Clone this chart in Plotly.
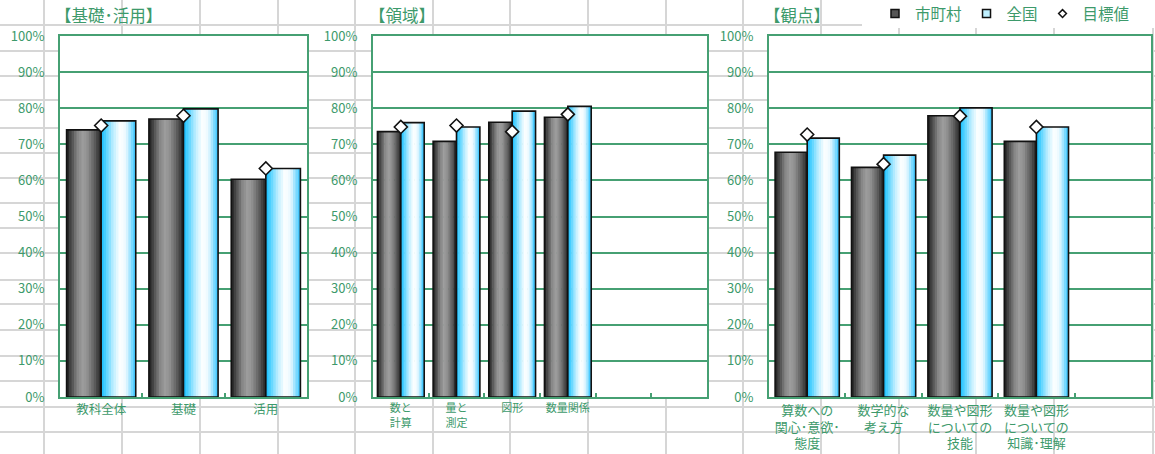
import plotly.graph_objects as go

# ---------------- data ----------------
cat1 = ["教科全体", "基礎", "活用"]
city1 = [0.740, 0.770, 0.603]
nation1 = [0.765, 0.798, 0.633]
target1 = [0.752, 0.779, 0.633]

cat2 = ["数と<br>計算", "量と<br>測定", "図形", "数量関係"]
city2 = [0.735, 0.708, 0.761, 0.775]
nation2 = [0.760, 0.748, 0.792, 0.805]
target2 = [0.748, 0.752, 0.735, 0.783]

cat3 = ["算数への<br>関心･意欲･<br>態度", "数学的な<br>考え方",
        "数量や図形<br>についての<br>技能", "数量や図形<br>についての<br>知識･理解"]
city3 = [0.678, 0.636, 0.779, 0.708]
nation3 = [0.717, 0.670, 0.801, 0.748]
target3 = [0.727, 0.645, 0.778, 0.748]

series_names = ["市町村", "全国", "目標値"]
titles = ["【基礎･活用】", "【領域】", "【観点】"]

# ---------------- style ----------------
W, H = 1155, 454
GREEN = "#46a073"
TEXT = "#3d9a6b"
FONT = "Noto Sans CJK JP"
BW = 0.42
NSTRIP = 14

gray_stops = [(0, (28, 28, 28)), (0.12, (70, 70, 70)), (0.32, (135, 135, 135)),
              (0.48, (158, 158, 158)), (0.62, (140, 140, 140)), (0.82, (90, 90, 90)),
              (1, (35, 35, 35))]
blue_stops = [(0, (20, 190, 255)), (0.15, (90, 212, 255)), (0.35, (190, 238, 255)),
              (0.55, (255, 255, 255)), (0.72, (232, 248, 255)), (0.88, (130, 220, 255)),
              (1, (50, 195, 255))]


def interp(stops, t):
    for (p0, c0), (p1, c1) in zip(stops[:-1], stops[1:]):
        if p0 <= t <= p1:
            f = (t - p0) / (p1 - p0) if p1 > p0 else 0
            c = [round(a + (b - a) * f) for a, b in zip(c0, c1)]
            return "rgb(%d,%d,%d)" % tuple(c)
    return "rgb(%d,%d,%d)" % stops[-1][1]


def px2x(p):
    return p / W


def px2y(p):
    return 1 - p / H


fig = go.Figure()

panels = [
    (cat1, city1, nation1, target1, 3, (60, 307)),
    (cat2, city2, nation2, target2, 6, (373, 707)),
    (cat3, city3, nation3, target3, 5, (769, 1151)),
]
label_sizes = [12.5, 11, 13]

step = BW / NSTRIP
for k, (cats, city, nation, target, nslots, dom) in enumerate(panels):
    xa = "x" if k == 0 else "x%d" % (k + 1)
    ya = "y" if k == 0 else "y%d" % (k + 1)
    for vals, stops, base in ((city, gray_stops, -BW), (nation, blue_stops, 0.0)):
        for i in range(NSTRIP):
            t = (i + 0.5) / NSTRIP
            w = min(step * 1.35, BW - i * step)
            fig.add_trace(go.Bar(
                x=cats, y=vals, xaxis=xa, yaxis=ya,
                width=w, offset=base + i * step,
                marker=dict(color=interp(stops, t), line=dict(width=0)),
                showlegend=False, hoverinfo="skip"))
        fig.add_trace(go.Bar(
            x=cats, y=vals, xaxis=xa, yaxis=ya, width=BW, offset=base,
            marker=dict(color="rgba(0,0,0,0)", line=dict(color="#111111", width=1.6)),
            showlegend=False, hoverinfo="skip"))
    fig.add_trace(go.Scatter(
        x=cats, y=target, xaxis=xa, yaxis=ya, mode="markers",
        marker=dict(symbol="diamond", size=10, color="white",
                    line=dict(color="#111111", width=1.6)),
        showlegend=False, hoverinfo="skip"))

    slots = cats + [" " * (j + 1) for j in range(nslots - len(cats))]
    fig.layout["xaxis" if k == 0 else "xaxis%d" % (k + 1)] = dict(
        domain=[px2x(dom[0]), px2x(dom[1])], anchor=ya,
        type="category", categoryorder="array", categoryarray=slots,
        range=[-0.5, nslots - 0.5], tickangle=0,
        showline=True, linecolor=GREEN, linewidth=2, mirror=True,
        ticks="inside", tickson="boundaries", ticklen=4, tickwidth=1.5, tickcolor=GREEN,
        showgrid=False, zeroline=False, automargin=False,
        tickfont=dict(family=FONT, size=label_sizes[k], color=TEXT),
        fixedrange=True)
    fig.layout["yaxis" if k == 0 else "yaxis%d" % (k + 1)] = dict(
        domain=[px2y(397), px2y(36)], anchor=xa, range=[0, 1], dtick=0.1,
        tickformat=".0%", showline=True, linecolor=GREEN, linewidth=2, mirror=True,
        showgrid=True, gridcolor=GREEN, gridwidth=1.5, zeroline=False,
        ticks="", ticklabelstandoff=11, automargin=False,
        tickfont=dict(family=FONT, size=13, color=TEXT), fixedrange=True)

# legend-only traces
fig.add_trace(go.Scatter(x=[None], y=[None], name=series_names[0], mode="markers",
                         marker=dict(symbol="square", size=8, color="#555555",
                                     line=dict(color="#111111", width=1.5))))
fig.add_trace(go.Scatter(x=[None], y=[None], name=series_names[1], mode="markers",
                         marker=dict(symbol="square", size=8, color="#bff0ff",
                                     line=dict(color="#111111", width=1.5))))
fig.add_trace(go.Scatter(x=[None], y=[None], name=series_names[2], mode="markers",
                         marker=dict(symbol="diamond", size=6, color="white",
                                     line=dict(color="#111111", width=1.5))))

# spreadsheet background
shapes = []
col_lines = [44, 122, 200, 278, 355, 433, 510, 588, 666, 743, 821, 899, 976, 1054, 1153]
row_lines = [25, 51, 76, 100, 128, 153, 178, 203, 228, 253, 280, 304, 330, 356, 381, 407, 432]
for c in col_lines:
    shapes.append(dict(type="line", xref="paper", yref="paper", layer="below",
                       x0=px2x(c), x1=px2x(c), y0=0, y1=1,
                       line=dict(color="#d6d6d6", width=2)))
for r in row_lines:
    shapes.append(dict(type="line", xref="paper", yref="paper", layer="below",
                       x0=0, x1=1, y0=px2y(r), y1=px2y(r),
                       line=dict(color="#d6d6d6", width=2)))
for (_, _, _, _, _, dom) in panels:
    shapes.append(dict(type="rect", xref="paper", yref="paper", layer="below",
                       x0=px2x(dom[0]), x1=px2x(dom[1]), y0=px2y(397), y1=px2y(36),
                       fillcolor="white", line=dict(width=0)))
shapes.append(dict(type="rect", xref="paper", yref="paper", layer="below",
                   x0=px2x(862), x1=1, y0=px2y(28), y1=1,
                   fillcolor="white", line=dict(width=0)))

annotations = []
for t, xp in zip(titles, [53, 367, 762]):
    annotations.append(dict(text=t, xref="paper", yref="paper", x=px2x(xp), y=px2y(15),
                            xanchor="left", yanchor="middle", showarrow=False,
                            font=dict(family=FONT, size=16.5, color=TEXT)))

fig.update_layout(
    width=W, height=H, margin=dict(l=0, r=0, t=0, b=0, autoexpand=False),
    paper_bgcolor="white", plot_bgcolor="rgba(0,0,0,0)",
    barmode="overlay", shapes=shapes, annotations=annotations,
    showlegend=True,
    legend=dict(orientation="h", x=px2x(875), y=px2y(14), xanchor="left", yanchor="middle",
                bgcolor="rgba(0,0,0,0)", font=dict(family=FONT, size=15.5, color=TEXT),
                itemwidth=30, tracegroupgap=0),
    font=dict(family=FONT, color=TEXT),
)

fig.write_html("out.html", config={"displayModeBar": False},
               post_script="document.body.style.margin='0';document.body.style.overflow='hidden';")
